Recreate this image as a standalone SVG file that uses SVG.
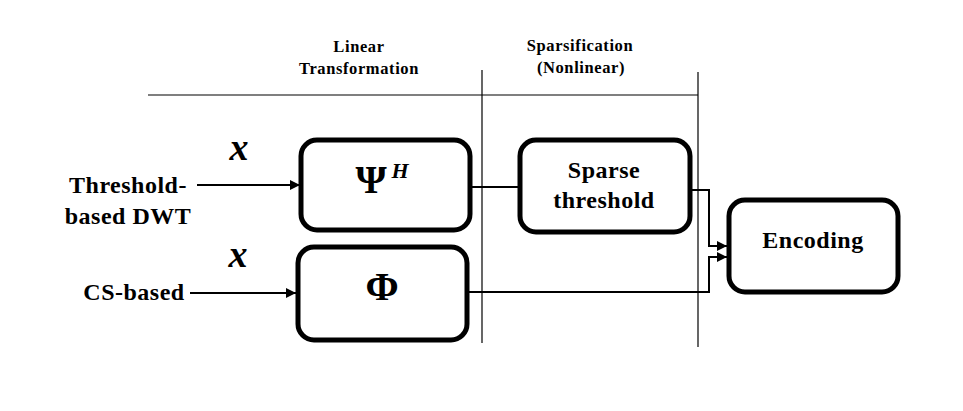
<svg xmlns="http://www.w3.org/2000/svg" width="963" height="411" viewBox="0 0 963 411">
<style>
.box{fill:#fff;stroke:#000;stroke-width:5}
.ln{fill:none;stroke:#000;stroke-width:2}
.thin{fill:none;stroke:#000;stroke-width:1.2}
text{font-family:"Liberation Serif","Times New Roman","DejaVu Serif",serif;font-weight:700;fill:#000;text-anchor:middle}
.big{font-size:24px;letter-spacing:0.5px}
.sm{font-size:16.5px;letter-spacing:0.6px}
.it{font-style:italic}
.sym{font-size:40px}
</style>
<defs>
<marker id="ah" viewBox="0 0 10 10" refX="10" refY="5" markerWidth="10" markerHeight="10" markerUnits="userSpaceOnUse" orient="auto">
<path d="M0,0 L10,5 L0,10 z" fill="#000"/>
</marker>
</defs>
<rect width="963" height="411" fill="#fff"/>
<g id="frame">
<line class="thin" x1="148" y1="95" x2="698" y2="95"/>
<line class="thin" x1="482" y1="70" x2="482" y2="343"/>
<line class="thin" x1="698" y1="72" x2="698" y2="347"/>
<text class="sm" x="359" y="52">Linear</text>
<text class="sm" x="359" y="74">Transformation</text>
<text class="sm" x="580" y="51">Sparsification</text>
<text class="sm" x="581" y="73">(Nonlinear)</text>
</g>
<g id="connectors">
<line class="ln" x1="197" y1="185" x2="300" y2="185" marker-end="url(#ah)"/>
<line class="ln" x1="190" y1="293" x2="296" y2="293" marker-end="url(#ah)"/>
<line class="ln" x1="470" y1="187" x2="518" y2="187"/>
<polyline class="ln" points="690,190 709,190 709,246 727,246" marker-end="url(#ah)"/>
<polyline class="ln" points="467,292 709,292 709,257 727,257" marker-end="url(#ah)"/>
</g>
<g id="input1">
<text class="big" x="128" y="193">Threshold-</text>
<text class="big" x="128" y="224">based DWT</text>
<text class="it" x="239" y="160" font-size="38">x</text>
</g>
<g id="input2">
<text class="big" x="134" y="300">CS-based</text>
<text class="it" x="238" y="267" font-size="38">x</text>
</g>
<g id="psi">
<rect class="box" x="301" y="140" width="169" height="90" rx="16"/>
<text class="sym" x="371" y="193">Ψ</text>
<text class="it" x="400" y="178" font-size="22">H</text>
</g>
<g id="phi">
<rect class="box" x="298" y="247" width="169" height="93" rx="16"/>
<text class="sym" x="382" y="300">Φ</text>
</g>
<g id="sparse">
<rect class="box" x="520" y="140" width="170" height="92" rx="16"/>
<text class="big" x="604" y="178">Sparse</text>
<text class="big" x="604" y="208">threshold</text>
</g>
<g id="encoding">
<rect class="box" x="729" y="200" width="169" height="92" rx="16"/>
<text class="big" x="813" y="248">Encoding</text>
</g>
</svg>
